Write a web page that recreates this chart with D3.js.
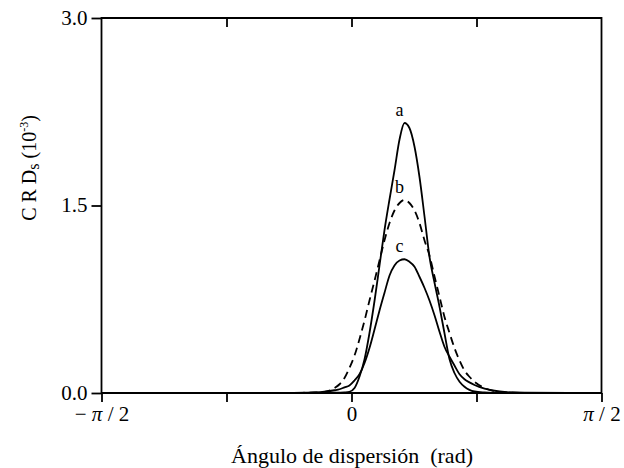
<!DOCTYPE html>
<html>
<head>
<meta charset="utf-8">
<script src="https://cdn.jsdelivr.net/npm/d3@7"></script>
<style>
  html, body { margin: 0; padding: 0; background: #fff; }
  svg { display: block; }
  text { font-family: "Liberation Serif", "DejaVu Serif", serif; fill: #000; }
</style>
</head>
<body>
<svg id="chart" width="624" height="468"></svg>
<script>
// Scattering angle samples (rad)
const angles = [-1.5708, -0.421, -0.295, -0.233, -0.170, -0.107, -0.075, -0.044, -0.013, 0.019,
  0.050, 0.082, 0.113, 0.145, 0.176, 0.207, 0.239, 0.270, 0.302, 0.333,
  0.364, 0.396, 0.427, 0.459, 0.490, 0.522, 0.553, 0.584, 0.616, 0.647,
  0.679, 0.710, 0.741, 0.773, 0.836, 0.899, 0.961, 1.087, 1.5708];

// CRDs values (x 10^-3) for each curve
const curveA = [0, 0, 0, 0, 0.001, 0.002, 0.003, 0.005, 0.01, 0.04,
  0.13, 0.27, 0.48, 0.74, 1.02, 1.30, 1.55, 1.78, 2.03, 2.16,
  2.12, 1.97, 1.73, 1.41, 1.09, 0.88, 0.69, 0.48, 0.27, 0.16,
  0.09, 0.05, 0.025, 0.012, 0.004, 0.001, 0, 0, 0];
const curveB = [0, 0, 0.002, 0.004, 0.008, 0.04, 0.07, 0.12, 0.20, 0.30,
  0.43, 0.58, 0.74, 0.90, 1.06, 1.22, 1.36, 1.46, 1.52, 1.544,
  1.52, 1.46, 1.36, 1.22, 1.10, 0.93, 0.77, 0.61, 0.48, 0.36,
  0.26, 0.18, 0.13, 0.09, 0.04, 0.014, 0.005, 0.001, 0];
const curveC = [0, 0, 0.002, 0.004, 0.01, 0.022, 0.03, 0.045, 0.06, 0.10,
  0.15, 0.24, 0.36, 0.51, 0.66, 0.80, 0.94, 1.02, 1.06, 1.07,
  1.05, 1.01, 0.93, 0.84, 0.74, 0.62, 0.49, 0.37, 0.29, 0.22,
  0.15, 0.11, 0.085, 0.064, 0.035, 0.018, 0.008, 0.002, 0];

const yTicks = [0, 1.5, 3.0];
const yTickLabels = ["0.0", "1.5", "3.0"];
const xTicks = [-Math.PI / 2, -Math.PI / 4, 0, Math.PI / 4, Math.PI / 2];
const xTickLabels = ["\u2212 \u03c0 / 2", "", "0", "", "\u03c0 / 2"];
const curveLabels = ["a", "b", "c"];

const svg = d3.select("#chart");
const m = { left: 101.5, right: 601.5, top: 18, bottom: 393 };

const x = d3.scaleLinear().domain([-Math.PI / 2, Math.PI / 2]).range([m.left, m.right]);
const y = d3.scaleLinear().domain([0, 3]).range([m.bottom, m.top]);

// Frame
const frame = svg.append("g").attr("stroke", "#000").attr("stroke-width", 1.8).attr("fill", "none");
frame.append("path")
  .attr("d", `M${m.left},${m.top}H${m.right}V${m.bottom}H${m.left}Z`);

// Left axis (outward ticks)
const yAxis = d3.axisLeft(y).tickValues(yTicks).tickSize(10).tickPadding(4)
  .tickFormat((d, i) => yTickLabels[i]);
const gy = svg.append("g").attr("transform", `translate(${m.left},0)`).call(yAxis);
gy.select(".domain").remove();
gy.selectAll(".tick line").attr("stroke", "#000").attr("stroke-width", 1.8);
gy.selectAll(".tick text").attr("font-size", 21).attr("font-family", "Liberation Serif, serif")
  .attr("dy", "0.3em");

// Bottom axis (outward ticks)
const xAxis = d3.axisBottom(x).tickValues(xTicks).tickSize(9).tickPadding(4)
  .tickFormat((d, i) => xTickLabels[i]);
const gx = svg.append("g").attr("transform", `translate(0,${m.bottom})`).call(xAxis);
gx.select(".domain").remove();
gx.selectAll(".tick line").attr("stroke", "#000").attr("stroke-width", 1.8);
gx.selectAll(".tick text").attr("font-size", 21).attr("font-family", "Liberation Serif, serif");
gx.selectAll(".tick text").each(function (d, i) {
  const t = d3.select(this);
  const label = xTickLabels[i];
  if (label.indexOf("\u03c0") >= 0) {
    t.text(null);
    const parts = label.split("\u03c0");
    t.append("tspan").text(parts[0]);
    t.append("tspan").attr("font-style", "italic").text("\u03c0");
    t.append("tspan").text(parts[1]);
  }
});

// Top axis (inward ticks, no labels)
const xTop = d3.axisTop(x).tickValues(xTicks.slice(1, 4)).tickSize(-9).tickFormat("");
const gt = svg.append("g").attr("transform", `translate(0,${m.top})`).call(xTop);
gt.select(".domain").remove();
gt.selectAll(".tick line").attr("stroke", "#000").attr("stroke-width", 1.8);

// Curves
const series = [
  { values: curveA, dash: null, label: curveLabels[0] },
  { values: curveB, dash: "8,5", label: curveLabels[1] },
  { values: curveC, dash: null, label: curveLabels[2] }
];
const line = d3.line()
  .x((d, i) => x(angles[i]))
  .y(d => y(d))
  .curve(d3.curveMonotoneX);

series.forEach(s => {
  svg.append("path")
    .datum(s.values)
    .attr("fill", "none")
    .attr("stroke", "#000")
    .attr("stroke-width", 1.8)
    .attr("stroke-dasharray", s.dash)
    .attr("d", line);
  const peak = d3.max(s.values);
  const pi = s.values.indexOf(peak);
  svg.append("text")
    .attr("x", x(angles[pi]) - 5)
    .attr("y", y(peak) - 7)
    .attr("text-anchor", "middle")
    .attr("font-size", 18)
    .text(s.label);
});

// Axis titles
svg.append("text")
  .attr("x", 352)
  .attr("y", 463)
  .attr("text-anchor", "middle")
  .attr("font-size", 22)
  .text("Ángulo de dispersión\u00a0 (rad)");

const yt = svg.append("text")
  .attr("transform", "translate(36,168) rotate(-90)")
  .attr("text-anchor", "middle")
  .attr("font-size", 20);
yt.append("tspan").text("C R D");
yt.append("tspan").attr("font-size", 16).attr("dy", 3).text("s");
yt.append("tspan").attr("dy", -3).text(" (10");
yt.append("tspan").attr("font-size", 12).attr("dy", -8).text("-3");
yt.append("tspan").attr("dy", 8).text(")");
</script>
</body>
</html>
